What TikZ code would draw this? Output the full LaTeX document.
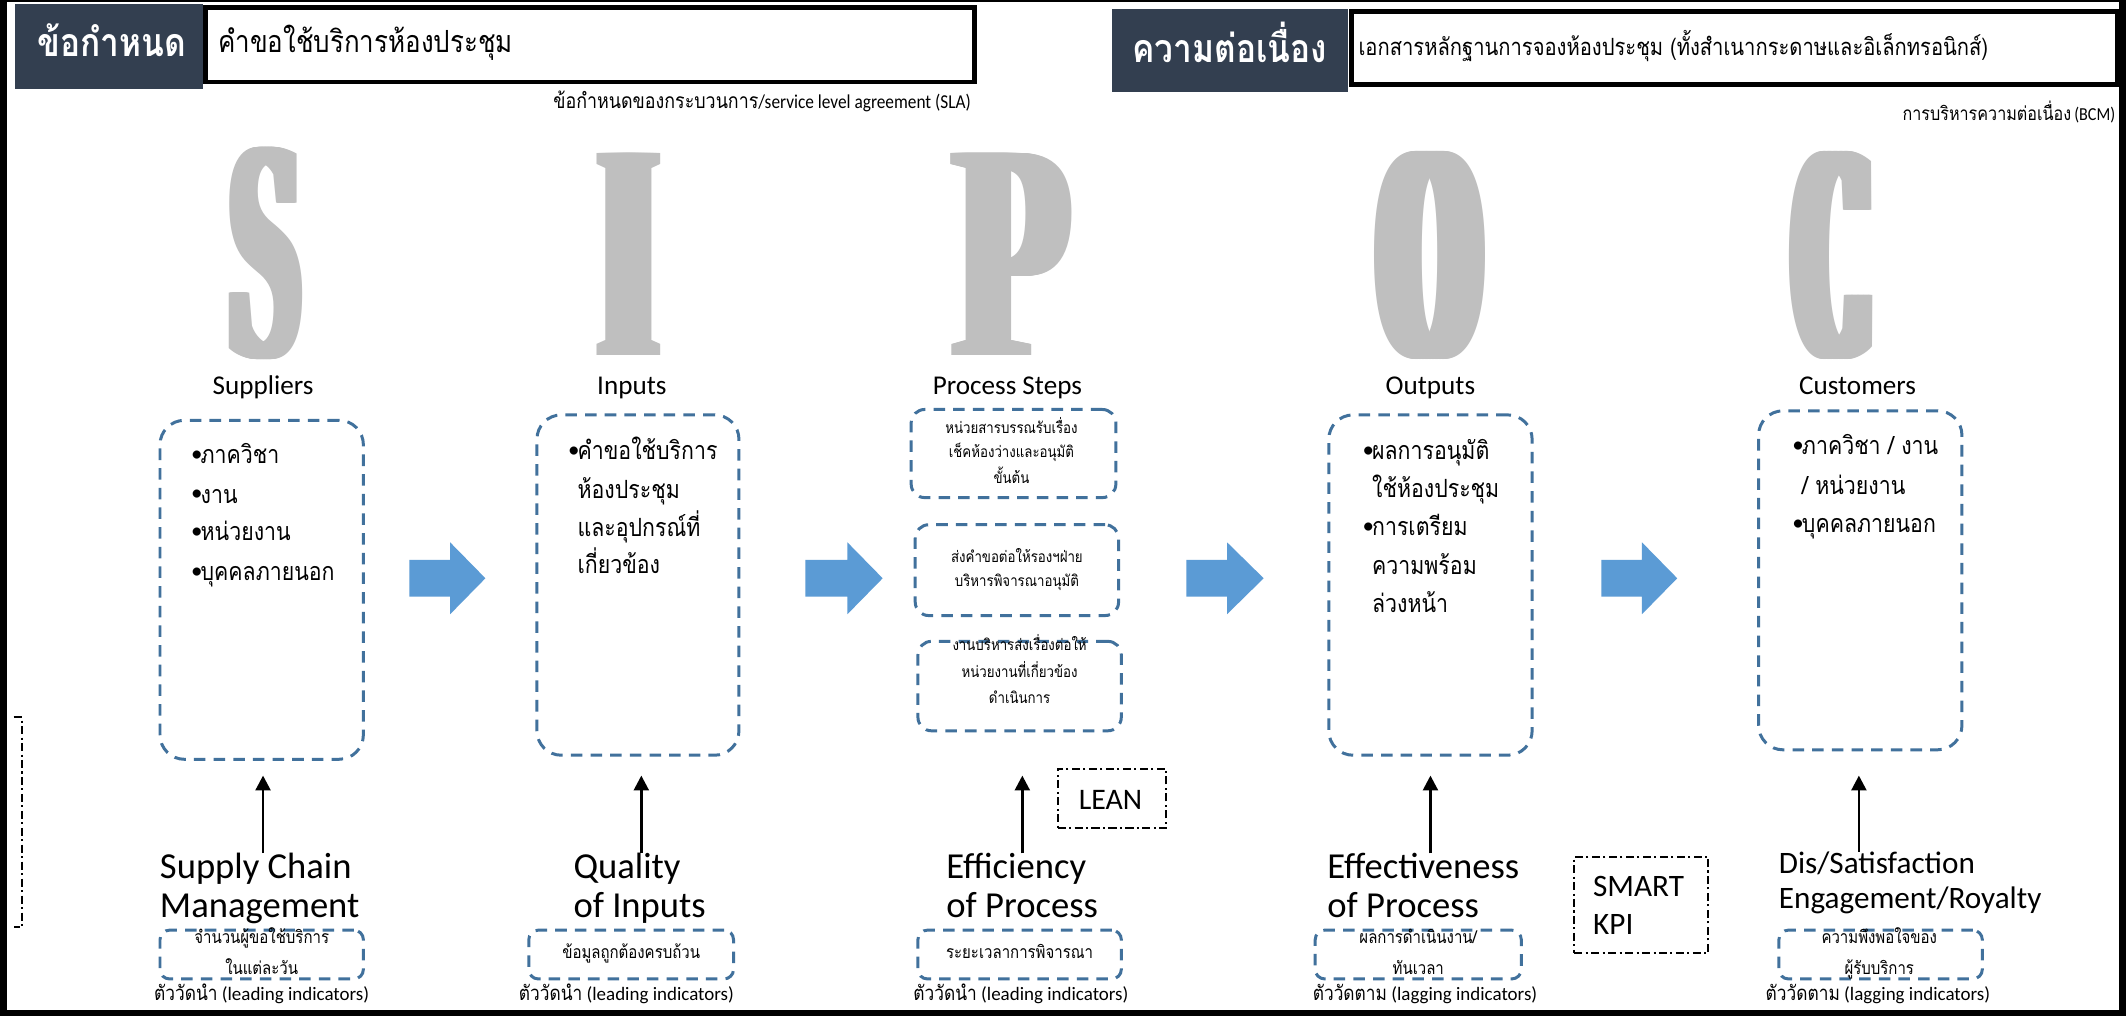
\documentclass[tikz,border=0pt]{standalone}
\usepackage{fontspec}
\setmainfont{Carlito}
\newfontfamily\thai[Script=Thai,FakeStretch=0.85]{Loma}
\newfontfamily\latn[FakeStretch=0.88]{Carlito}
\newfontfamily\bigserif{Liberation Serif}
\usetikzlibrary{arrows.meta}
\definecolor{dashblue}{HTML}{41719C}
\definecolor{darkhead}{HTML}{333F50}
\definecolor{blockblue}{HTML}{5B9BD5}
\definecolor{biggray}{HTML}{BFBFBF}
\newcommand\fs[2]{\fontsize{#1}{#2}\selectfont}
\newcommand\bul{\makebox[7pt][l]{\raisebox{1.5pt}{\fs{17}{17}\rmfamily •}}}
\newcommand\bulgap{\hspace*{7pt}}
\newsavebox\lbox
% width, height, horizontal thickening, letter
\newcommand\heavy[4]{\sbox\lbox{\resizebox{#1}{#2}{\bigserif\bfseries #4}}%
  \makebox[\dimexpr#1+#3\relax][l]{\foreach \t in {0,...,20}{\rlap{\hspace*{\dimexpr#3*\t/20\relax}\usebox\lbox}}}}
\begin{document}
\begin{tikzpicture}[x=1pt,y=-1pt,
  every node/.style={inner sep=0pt,outer sep=0pt},
  bigbox/.style={draw=dashblue,line width=2.2pt,dash pattern=on 8.5pt off 6pt,rounded corners=18pt},
  stepbox/.style={draw=dashblue,line width=2.2pt,dash pattern=on 8.5pt off 6pt,rounded corners=10pt},
  smallbox/.style={draw=dashblue,line width=2.2pt,dash pattern=on 8.5pt off 6pt,rounded corners=7pt},
  dashdotbox/.style={draw=black,line width=1.4pt,dash pattern=on 6pt off 2.5pt on 1.5pt off 2.5pt},
  darkbox/.style={fill=darkhead},
  whitebox/.style={draw=black,line width=3.5pt,fill=white},
  bigletter/.style={text=biggray},
  title/.style={font=\fs{20}{20},anchor=base},
  bthai/.style={font=\thai\fs{18.5}{22},anchor=base west},
  sthai/.style={font=\thai\fs{11.5}{13},anchor=base},
  mthai/.style={font=\thai\fs{13}{15},anchor=base},
  lab/.style={font=\fs{14}{14},anchor=base},
  kpi/.style={font=\fs{27}{27},anchor=base west},
  kpis/.style={font=\fs{23}{23},anchor=base west},
  uparrow/.style={-{Triangle[length=11pt,width=11pt]},line width=2pt},
  blockarrow/.style={fill=blockblue}
]
\useasboundingbox (0,0) rectangle (1568,749);
\fill[white] (0,0) rectangle (1568,749);

% frame
\draw[line width=5pt] (2.5,0) -- (2.5,749);
\draw[line width=5pt] (1565.5,0) -- (1565.5,749);
\draw[line width=4pt] (0,747) -- (1568,747);
\draw[line width=1.2pt] (0,0.6) -- (1568,0.6);

% headers
\node[darkbox,minimum width=139pt,minimum height=63pt] (hd1) at (80.5,34.5) {};
\node[font=\thai\bfseries\fs{29}{29},text=white,anchor=base] (hd1t) at (82.5,42) {ข้อกำหนด};
\node[whitebox,minimum width=567pt,minimum height=55pt] (hb1) at (435,33) {};
\node[font=\thai\fs{22.5}{22.5},anchor=base west] (hb1t) at (161,39) {คำขอใช้บริการห้องประชุม};
\node[anchor=base east] (sla) at (716,80) {{\thai\fs{15.5}{15.5}ข้อกำหนดของกระบวนการ}{\latn\fs{14.5}{14.5}/service level agreement (SLA)}};

\node[darkbox,minimum width=174pt,minimum height=61pt] (hd2) at (907,37.5) {};
\node[font=\thai\bfseries\fs{29}{29},text=white,anchor=base] (hd2t) at (907,46) {ความต่อเนื่อง};
\node[whitebox,minimum width=565pt,minimum height=54pt] (hb2) at (1279,35.5) {};
\node[font=\thai\fs{17.5}{17.5},anchor=base west] (hb2t) at (1002,41) {เอกสารหลักฐานการจองห้องประชุม (ทั้งสำเนากระดาษและอิเล็กทรอนิกส์)};
\node[anchor=base east] (bcm) at (1560,89) {{\thai\fs{14}{14}การบริหารความต่อเนื่อง} {\latn\fs{13.5}{13.5}(BCM)}};

% big letters
\node[bigletter] (bigS) at (195.5,187) {\heavy{52pt}{154pt}{11pt}{S}};
\node[bigletter] (bigI) at (464,187.5) {\heavy{30pt}{149pt}{22pt}{I}};
\node[bigletter] (bigP) at (746.5,187.5) {\heavy{83pt}{149pt}{12pt}{P}};
\node[bigletter] (bigO) at (1054.5,188.5) {\heavy{70pt}{151pt}{21pt}{O}};
\node[bigletter] (bigC) at (1351.5,188.5) {\heavy{53pt}{151pt}{18pt}{C}};

% titles
\node[title] (tS) at (194,291) {Suppliers};
\node[title] (tI) at (466,291) {Inputs};
\node[title] (tP) at (743,291) {Process Steps};
\node[title] (tO) at (1055,291) {Outputs};
\node[title] (tC) at (1370,291) {Customers};

% main dashed boxes
\node[bigbox,minimum width=150pt,minimum height=250pt] (supbox) at (193,435) {};
\node[bigbox,minimum width=149pt,minimum height=251pt] (inpbox) at (470.5,431.5) {};
\node[bigbox,minimum width=150pt,minimum height=251pt] (outbox) at (1055,431.5) {};
\node[bigbox,minimum width=150pt,minimum height=250pt] (cusbox) at (1372,428) {};

% suppliers list
\node[bthai] (s1) at (141,342) {\bul ภาควิชา};
\node[bthai] (s2) at (141,371) {\bul งาน};
\node[bthai] (s3) at (141,399) {\bul หน่วยงาน};
\node[bthai] (s4) at (141,428) {\bul บุคคลภายนอก};
% inputs list
\node[bthai] (i1) at (419,339) {\bul คำขอใช้บริการ};
\node[bthai] (i2) at (419,368) {\bulgap ห้องประชุม};
\node[bthai] (i3) at (419,396) {\bulgap และอุปกรณ์ที่};
\node[bthai] (i4) at (419,423) {\bulgap เกี่ยวข้อง};
% outputs list
\node[bthai] (o1) at (1005,339) {\bul ผลการอนุมัติ};
\node[bthai] (o2) at (1005,367) {\bulgap ใช้ห้องประชุม};
\node[bthai] (o3) at (1005,395) {\bul การเตรียม};
\node[bthai] (o4) at (1005,424) {\bulgap ความพร้อม};
\node[bthai] (o5) at (1005,452) {\bulgap ล่วงหน้า};
% customers list
\node[bthai] (c1) at (1322,335) {\bul ภาควิชา / งาน};
\node[bthai] (c2) at (1322,365) {\bulgap / หน่วยงาน};
\node[bthai] (c3) at (1322,393) {\bul บุคคลภายนอก};

% process steps
\node[stepbox,minimum width=151pt,minimum height=65pt] (pb1) at (747.5,334.5) {};
\node[stepbox,minimum width=150pt,minimum height=67pt] (pb2) at (750,420.5) {};
\node[stepbox,minimum width=150pt,minimum height=66pt] (pb3) at (752,506) {};
\node[sthai] (p11) at (746,319.5) {หน่วยสารบรรณรับเรื่อง};
\node[sthai] (p12) at (746,337.5) {เช็คห้องว่างและอนุมัติ};
\node[sthai] (p13) at (746,356.5) {ขั้นต้น};
\node[sthai] (p21) at (750,414.5) {ส่งคำขอต่อให้รองฯฝ่าย};
\node[sthai] (p22) at (750,432.5) {บริหารพิจารณาอนุมัติ};
\node[sthai] (p31) at (752,479.5) {งานบริหารส่งเรื่องต่อให้};
\node[sthai] (p32) at (752,499.5) {หน่วยงานที่เกี่ยวข้อง};
\node[sthai] (p33) at (752,518.5) {ดำเนินการ};

% block arrows
\foreach \a/\b/\c in {302/332/358,594/625/651,875/905/932,1181/1211/1237}{
  \fill[blockarrow] (\a,413) -- (\b,413) -- (\b,400) -- (\c,426.5) -- (\b,453) -- (\b,440) -- (\a,440) -- cycle;
}

% measures
\node[kpi] (m1a) at (118,648) {Supply Chain};
\node[kpi] (m1b) at (118,677) {Management};
\node[kpi] (m2a) at (423,648) {Quality};
\node[kpi] (m2b) at (423,677) {of Inputs};
\node[kpi] (m3a) at (698,648) {Efficiency};
\node[kpi] (m3b) at (698,677) {of Process};
\node[kpi] (m4a) at (979,648) {Effectiveness};
\node[kpi] (m4b) at (979,677) {of Process};
\node[kpis] (m5a) at (1312,644) {Dis/Satisfaction};
\node[kpis] (m5b) at (1312,670) {Engagement/Royalty};

\coordinate (tip1) at (194,572);
\coordinate (tip2) at (473,572);
\coordinate (tip3) at (754,572);
\coordinate (tip4) at (1055,572);
\coordinate (tip5) at (1371,572);
\draw[uparrow] (tip1 |- m1a.north) -- (tip1);
\draw[uparrow] (tip2 |- m2a.north) -- (tip2);
\draw[uparrow] (tip3 |- m3a.north) -- (tip3);
\draw[uparrow] (tip4 |- m4a.north) -- (tip4);
\draw[uparrow] (tip5 |- m5a.north) -- (tip5);

% LEAN and SMART KPI
\node[dashdotbox,minimum width=80pt,minimum height=44pt] (lean) at (820,589) {};
\node[font=\fs{22}{22},anchor=base] (leant) at (819,597) {LEAN};
\node[dashdotbox,minimum width=99pt,minimum height=71pt] (smart) at (1210.5,667.5) {};
\node[font=\fs{23}{23},anchor=base west] (smart1) at (1175,661) {SMART};
\node[font=\fs{23}{23},anchor=base west] (smart2) at (1175,689) {KPI};

% left dash-dot fragment
\draw[dashdotbox] (10,529) -- (16,529) -- (16,684) -- (10,684);

% indicator boxes
\node[smallbox,minimum width=150pt,minimum height=36pt] (b1) at (193,704) {};
\node[smallbox,minimum width=151pt,minimum height=36pt] (b2) at (465.5,704) {};
\node[smallbox,minimum width=150pt,minimum height=36pt] (b3) at (752,704) {};
\node[smallbox,minimum width=152pt,minimum height=36pt] (b4) at (1046,704) {};
\node[smallbox,minimum width=150pt,minimum height=36pt] (b5) at (1387,704) {};
\node[mthai] (b1a) at (193,696) {จำนวนผู้ขอใช้บริการ};
\node[mthai] (b1b) at (193,719) {ในแต่ละวัน};
\node[mthai] (b2a) at (465.5,707) {ข้อมูลถูกต้องครบถ้วน};
\node[mthai] (b3a) at (752,707) {ระยะเวลาการพิจารณา};
\node[mthai] (b4a) at (1046,696) {ผลการดำเนินงาน/};
\node[mthai] (b4b) at (1046,719) {ทันเวลา};
\node[mthai] (b5a) at (1386,696) {ความพึงพอใจของ};
\node[mthai] (b5b) at (1386,719) {ผู้รับบริการ};

% indicator labels
\node[lab] (l1) at (193,738) {{\thai\fs{15}{15}ตัววัดนำ} (leading indicators)};
\node[lab] (l2) at (462,738) {{\thai\fs{15}{15}ตัววัดนำ} (leading indicators)};
\node[lab] (l3) at (753,738) {{\thai\fs{15}{15}ตัววัดนำ} (leading indicators)};
\node[lab] (l4) at (1051,738) {{\thai\fs{15}{15}ตัววัดตาม} (lagging indicators)};
\node[lab] (l5) at (1385,738) {{\thai\fs{15}{15}ตัววัดตาม} (lagging indicators)};
\end{tikzpicture}
\end{document}
